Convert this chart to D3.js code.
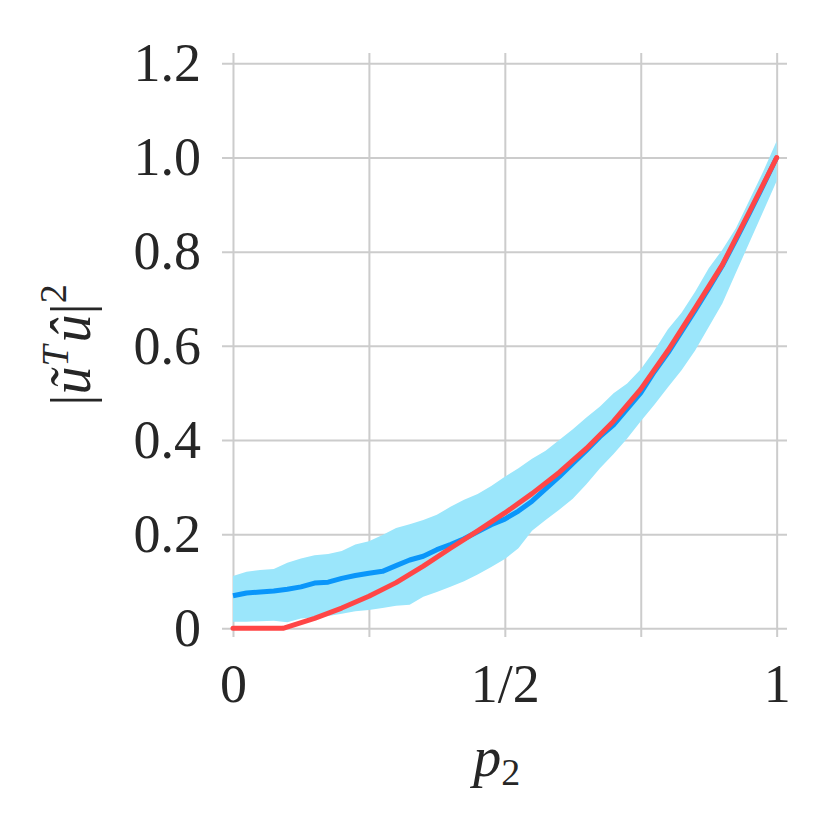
<!DOCTYPE html>
<html>
<head>
<meta charset="utf-8">
<script src="https://cdn.jsdelivr.net/npm/d3@7"></script>
<style>
  body { margin: 0; background: #fff; }
</style>
</head>
<body>
<div id="figure"></div>
<script>
'use strict';

// sample grid for the simulated curve and its band
const pGrid = [0, 0.025, 0.05, 0.075, 0.1, 0.125, 0.15, 0.175, 0.2, 0.225, 0.25, 0.275, 0.3, 0.325, 0.35, 0.375,
  0.4, 0.425, 0.45, 0.475, 0.5, 0.525, 0.55, 0.575, 0.6, 0.625, 0.65, 0.675, 0.7, 0.725, 0.75, 0.775,
  0.8, 0.825, 0.85, 0.875, 0.9, 0.925, 0.95, 0.975, 1];

const meanVals = [0.069, 0.075, 0.077, 0.079, 0.083, 0.088, 0.096, 0.098, 0.106, 0.112, 0.117, 0.121, 0.133, 0.145, 0.153, 0.167,
  0.178, 0.19, 0.205, 0.22, 0.232, 0.249, 0.27, 0.296, 0.322, 0.35, 0.378, 0.407, 0.432, 0.466, 0.5, 0.545,
  0.585, 0.63, 0.675, 0.722, 0.77, 0.825, 0.882, 0.94, 1.0];

const upperVals = [0.111, 0.12, 0.124, 0.126, 0.139, 0.148, 0.155, 0.158, 0.164, 0.178, 0.185, 0.198, 0.213, 0.221, 0.23, 0.241,
  0.258, 0.273, 0.285, 0.302, 0.322, 0.34, 0.36, 0.377, 0.4, 0.423, 0.448, 0.471, 0.499, 0.52, 0.55, 0.59,
  0.635, 0.67, 0.715, 0.765, 0.804, 0.85, 0.91, 0.97, 1.035];

const lowerVals = [0.014, 0.014, 0.015, 0.016, 0.013, 0.021, 0.023, 0.026, 0.031, 0.036, 0.039, 0.043, 0.048, 0.05, 0.067, 0.077,
  0.088, 0.1, 0.114, 0.13, 0.147, 0.17, 0.207, 0.23, 0.252, 0.275, 0.306, 0.34, 0.37, 0.403, 0.44, 0.475,
  0.512, 0.548, 0.59, 0.64, 0.69, 0.755, 0.82, 0.885, 0.95];

// theory curve
const theoryP = [0, 0.05, 0.092, 0.15, 0.2, 0.25, 0.3, 0.35, 0.4, 0.45, 0.5, 0.55, 0.6, 0.65, 0.7, 0.75, 0.8, 0.85, 0.9, 0.95, 1];
const theoryVals = [0, 0, 0, 0.021, 0.043, 0.068, 0.097, 0.132, 0.17, 0.207, 0.245, 0.286, 0.331, 0.382, 0.44, 0.508, 0.59, 0.68, 0.772, 0.885, 1.0];

const xTicks = [0, 0.25, 0.5, 0.75, 1];
const xTickLabels = ['0', '', '1/2', '', '1'];
const yTicks = [0, 0.2, 0.4, 0.6, 0.8, 1.0, 1.2];
const yTickLabels = ['0', '0.2', '0.4', '0.6', '0.8', '1.0', '1.2'];

const serif = '"Liberation Serif", "Times New Roman", serif';
const textColor = '#262626';

const width = 828;
const height = 834;
const plot = { left: 222, right: 787, top: 53, bottom: 637 };

const x = d3.scaleLinear()
  .domain([-0.0202, 1.019])
  .range([plot.left, plot.right]);

const y = d3.scaleLinear()
  .domain([-0.0185, 1.222])
  .range([plot.bottom, plot.top]);

const svg = d3.select("div#figure")
  .append("svg")
  .attr("width", width)
  .attr("height", height)
  .attr("viewBox", [0, 0, width, height]);

svg.append("rect")
  .attr("width", width)
  .attr("height", height)
  .attr("fill", "#fff");

// grid + tick labels
const xAxis = svg.append("g")
  .attr("transform", `translate(0, ${plot.bottom})`)
  .call(d3.axisBottom(x)
    .tickValues(xTicks)
    .tickSize(-(plot.bottom - plot.top))
    .tickPadding(27)
    .tickFormat((d, i) => xTickLabels[i]));

const yAxis = svg.append("g")
  .attr("transform", `translate(${plot.left}, 0)`)
  .call(d3.axisLeft(y)
    .tickValues(yTicks)
    .tickSize(-(plot.right - plot.left))
    .tickPadding(21)
    .tickFormat((d, i) => yTickLabels[i]));

for (const g of [xAxis, yAxis]) {
  g.select(".domain").remove();
  g.selectAll(".tick line")
    .attr("stroke", "#cccccc")
    .attr("stroke-width", 2);
  g.selectAll(".tick text")
    .style("font-family", serif)
    .style("font-size", "54px")
    .style("fill", textColor);
}

// band
const area = d3.area()
  .x(d => x(d[0]))
  .y0(d => y(d[1]))
  .y1(d => y(d[2]));

svg.append("path")
  .datum(d3.zip(pGrid, lowerVals, upperVals))
  .attr("fill", "#9be6fb")
  .attr("stroke", "none")
  .attr("d", area);

const line = d3.line()
  .x(d => x(d[0]))
  .y(d => y(d[1]));

svg.append("path")
  .datum(d3.zip(pGrid, meanVals))
  .attr("fill", "none")
  .attr("stroke", "#0a96fa")
  .attr("stroke-width", 5)
  .attr("stroke-linejoin", "round")
  .attr("d", line);

svg.append("path")
  .datum(d3.zip(theoryP, theoryVals))
  .attr("fill", "none")
  .attr("stroke", "#ff4646")
  .attr("stroke-width", 5)
  .attr("stroke-linejoin", "round")
  .attr("stroke-linecap", "round")
  .attr("d", line);

// axis labels
const xLabel = svg.append("text")
  .attr("x", x(0.5) - 8)
  .attr("y", 776)
  .attr("text-anchor", "middle")
  .style("font-family", serif)
  .style("font-size", "56px")
  .style("fill", textColor);
xLabel.append("tspan").style("font-style", "italic").text("p");
xLabel.append("tspan")
  .style("font-size", "38px")
  .attr("dy", 9)
  .text("2");

const yLabel = svg.append("text")
  .attr("transform", `translate(90, ${(plot.top + plot.bottom) / 2}) rotate(-90)`)
  .attr("text-anchor", "middle")
  .style("font-family", serif)
  .style("font-size", "56px")
  .style("fill", textColor);
yLabel.append("tspan").text("|");
yLabel.append("tspan").style("font-style", "italic").text("\u0169");
yLabel.append("tspan").style("font-style", "italic").style("font-size", "38px").attr("dy", -22).text("T");
yLabel.append("tspan").style("font-style", "italic").attr("dx", 3).attr("dy", 22).text("\u00fb");
yLabel.append("tspan").text("|");
yLabel.append("tspan").style("font-size", "38px").attr("dy", -24).text("2");
</script>
</body>
</html>
